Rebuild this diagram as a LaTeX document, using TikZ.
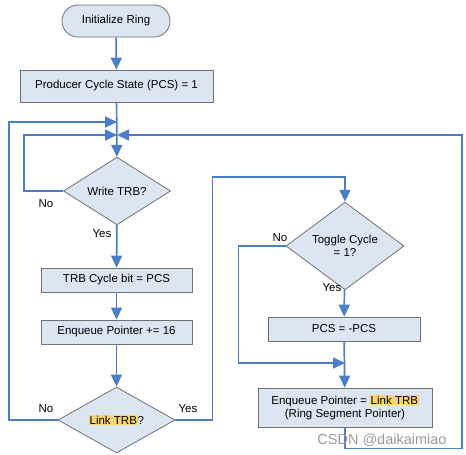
\documentclass[tikz,border=0pt]{standalone}
\usepackage{fontspec}
\setmainfont{Liberation Sans}
\usetikzlibrary{shapes.geometric,shapes.misc,arrows.meta}

\definecolor{flowblue}{HTML}{4A7EC8}
\definecolor{boxfill}{HTML}{DCE6F2}
\definecolor{boxline}{HTML}{707070}
\definecolor{hlyellow}{HTML}{F7D56E}
\definecolor{markgray}{HTML}{9A9A9A}

\newcommand{\hlt}[1]{{\setlength{\fboxsep}{0.6pt}\colorbox{hlyellow}{#1}}}

\begin{document}
\begin{tikzpicture}[x=1pt,y=-1pt,
    every node/.style={font=\fontsize{11.5}{13.5}\selectfont},
    start/.style={rounded rectangle,draw=boxline,fill=boxfill,line width=0.8pt,inner sep=0pt},
    proc/.style={rectangle,draw=boxline,fill=boxfill,line width=0.8pt,inner sep=0pt,align=center},
    decision/.style={diamond,draw=boxline,fill=boxfill,line width=0.8pt,inner sep=0pt,align=center},
    flow/.style={draw=flowblue,line width=1.7pt},
    arr/.style={flow,-{Triangle[length=12pt,width=11pt]}}]

  \useasboundingbox (0,0) rectangle (466,455);

  % boxes
  \node[start,minimum width=108pt,minimum height=32pt] (init) at (116,21) {Initialize Ring};
  \node[proc,minimum width=193pt,minimum height=32pt] (pcs) at (116.5,86) {Producer Cycle State (PCS) = 1};
  \node[decision,minimum width=107pt,minimum height=66pt] (write) at (117,191) {Write TRB?};
  \node[proc,minimum width=151pt,minimum height=24pt] (cycle) at (116.5,280) {TRB Cycle bit = PCS};
  \node[proc,minimum width=151pt,minimum height=24pt] (enq) at (116.5,332) {Enqueue Pointer += 16};
  \node[decision,minimum width=117pt,minimum height=66pt] (link) at (116.5,420) {\hlt{Link TRB}?};
  \node[decision,minimum width=118pt,minimum height=65pt] (toggle) at (345,246) {Toggle Cycle\\= 1?};
  \node[proc,minimum width=152pt,minimum height=24pt] (neg) at (344,329) {PCS = -PCS};
  \node[proc,minimum width=174pt,minimum height=39pt] (seg) at (345,407.5) {Enqueue Pointer = \hlt{Link TRB}\\(Ring Segment Pointer)};

  % junctions
  \coordinate (j1) at (117,122);
  \coordinate (j2) at (117,135);
  \coordinate (j3) at (345,363);

  % connectors
  \draw[arr] (init) -- (pcs);
  \draw[arr] (pcs) -- (write);
  \draw[arr] (write.west) -- ++(-39,0) |- (j2);
  \draw[arr] (write) -- (cycle);
  \draw[arr] (cycle) -- (enq);
  \draw[arr] (enq) -- (link);
  \draw[arr] (link.west) -- ++(-48.5,0) |- (j1);
  \draw[arr] (link.east) -- ++(37,0) -- ++(0,-243) -| (toggle.north);
  \draw[arr] (toggle.west) -- ++(-47,0) |- (j3);
  \draw[arr] (toggle) -- (neg);
  \draw[arr] (neg) -- (seg);
  \draw[arr] (seg.south) -- ++(0,21) -- ++(117,0) |- (j2);

  % labels
  \node (noWrite) at (46,204) {No};
  \node (yesWrite) at (102,234) {Yes};
  \node (noLink) at (46,409) {No};
  \node (yesLink) at (188,409) {Yes};
  \node (noToggle) at (280,238) {No};
  \node (yesToggle) at (332,288) {Yes};

  \node[text=markgray,font=\fontsize{14.5}{16}\selectfont] (mark) at (382,440) {CSDN @daikaimiao};

\end{tikzpicture}
\end{document}
